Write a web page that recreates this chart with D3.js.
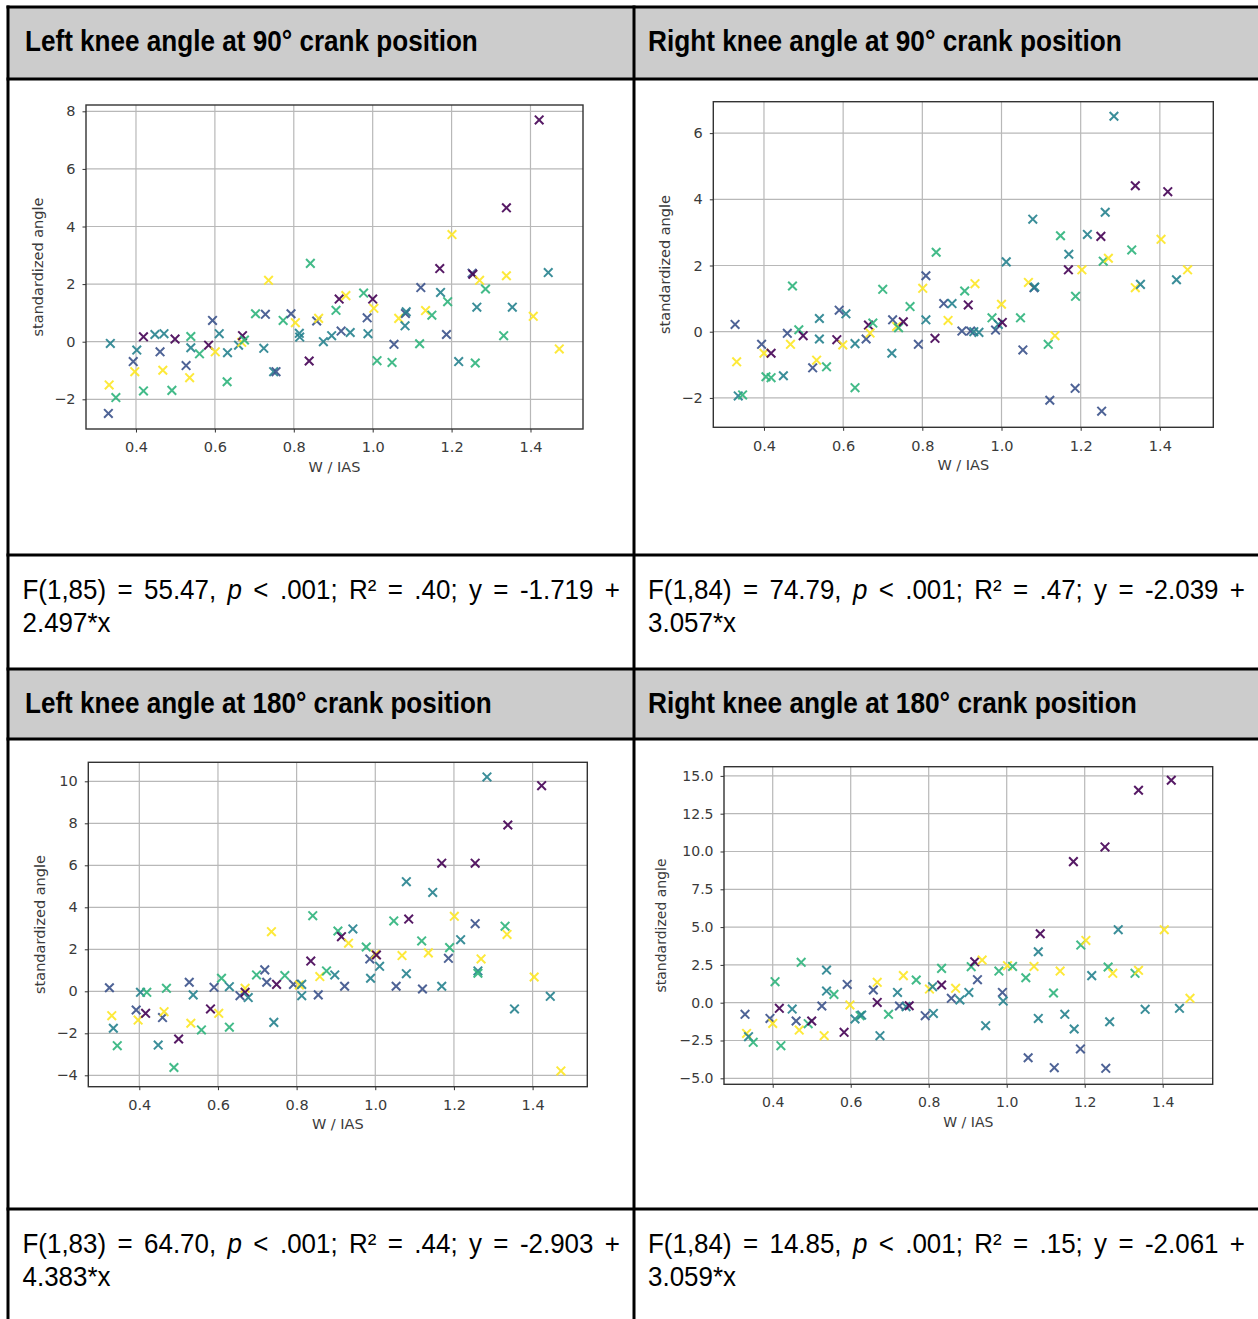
<!DOCTYPE html>
<html>
<head>
<meta charset="UTF-8">
<title>Knee angle vs W / IAS</title>
<script src="https://d3js.org/d3.v7.min.js"></script>
<style>
  body { margin: 0; background: #fff; }
  svg { display: block; }
</style>
</head>
<body>
<script>
// ---- data : [W/IAS, standardized angle, group] ----
var groupColors = ["#440154", "#3b528b", "#26828e", "#2fb47c", "#fde725"];

var leftKnee90 = [
  [0.330,-2.49,1],[0.332,-1.50,4],[0.335,-0.06,2],[0.349,-1.94,3],[0.393,-0.69,1],[0.397,-1.04,4],
  [0.402,-0.29,2],[0.419,0.17,0],[0.419,-1.71,3],[0.448,0.25,2],[0.471,0.28,2],[0.461,-0.35,1],
  [0.468,-0.99,4],[0.491,-1.69,3],[0.499,0.09,0],[0.527,-0.83,1],[0.536,-1.25,4],[0.539,0.18,3],
  [0.539,-0.21,2],[0.561,-0.42,3],[0.584,-0.12,0],[0.594,0.74,1],[0.601,-0.35,4],[0.611,0.28,2],
  [0.632,-0.38,2],[0.631,-1.39,3],[0.660,-0.12,2],[0.668,-0.02,4],[0.670,0.21,0],[0.675,0.06,3],
  [0.703,0.97,3],[0.728,0.95,1],[0.724,-0.23,2],[0.736,2.13,4],[0.749,-1.04,2],[0.755,-1.04,1],
  [0.773,0.74,3],[0.793,0.97,1],[0.804,0.66,4],[0.814,0.29,2],[0.815,0.16,2],[0.839,-0.67,0],
  [0.842,2.72,3],[0.858,0.72,1],[0.863,0.81,4],[0.875,0.00,2],[0.896,0.21,2],[0.907,1.09,3],
  [0.915,1.48,0],[0.920,0.37,1],[0.932,1.60,4],[0.943,0.32,2],[0.977,1.69,3],[0.986,0.83,1],
  [0.988,0.28,2],[1.000,1.48,0],[1.003,1.16,4],[1.011,-0.66,3],[1.049,-0.72,3],[1.054,-0.09,1],
  [1.066,0.81,4],[1.083,0.98,1],[1.082,0.55,2],[1.085,1.04,2],[1.119,-0.07,3],[1.122,1.88,1],
  [1.134,1.08,4],[1.150,0.92,3],[1.170,2.54,0],[1.172,1.71,2],[1.187,0.25,1],[1.190,1.39,3],
  [1.201,3.72,4],[1.218,-0.69,2],[1.252,2.38,1],[1.254,2.34,0],[1.260,-0.74,3],[1.264,1.20,2],
  [1.271,2.13,4],[1.286,1.83,3],[1.332,0.21,3],[1.339,2.29,4],[1.339,4.65,0],[1.354,1.20,2],
  [1.407,0.88,4],[1.422,7.70,0],[1.445,2.40,2],[1.473,-0.25,4]
];

var rightKnee90 = [
  [0.327,0.22,1],[0.331,-0.91,4],[0.335,-1.94,2],[0.346,-1.91,3],[0.394,-0.38,1],[0.400,-0.65,4],
  [0.418,-0.65,0],[0.405,-1.36,3],[0.418,-1.39,3],[0.449,-1.33,2],[0.459,-0.05,1],[0.467,-0.38,4],
  [0.472,1.38,3],[0.488,0.06,3],[0.499,-0.12,0],[0.523,-1.09,1],[0.533,-0.86,4],[0.540,0.40,2],
  [0.540,-0.22,2],[0.558,-1.06,3],[0.584,-0.24,0],[0.590,0.65,1],[0.599,-0.40,4],[0.607,0.54,2],
  [0.630,-0.36,2],[0.630,-1.69,3],[0.658,-0.22,1],[0.664,0.20,0],[0.668,-0.04,4],[0.675,0.26,3],
  [0.700,1.28,3],[0.723,-0.65,2],[0.725,0.36,1],[0.735,0.16,4],[0.740,0.12,3],[0.752,0.30,0],
  [0.769,0.76,3],[0.790,-0.38,1],[0.801,1.31,4],[0.809,1.69,1],[0.809,0.36,2],[0.832,-0.20,0],
  [0.835,2.40,3],[0.854,0.85,1],[0.875,0.85,2],[0.865,0.34,4],[0.900,0.02,1],[0.907,1.23,3],
  [0.916,0.81,0],[0.922,0.02,1],[0.933,1.45,4],[0.930,0.00,2],[0.943,-0.02,2],[0.976,0.42,3],
  [0.985,0.05,1],[0.992,0.22,2],[1.002,0.28,0],[1.000,0.83,4],[1.012,2.11,2],[1.048,0.42,3],
  [1.054,-0.55,1],[1.068,1.49,4],[1.079,3.40,2],[1.082,1.33,1],[1.084,1.35,2],[1.118,-0.38,3],
  [1.135,-0.12,4],[1.122,-2.07,1],[1.149,2.90,3],[1.170,2.34,2],[1.169,1.87,0],[1.186,-1.71,1],
  [1.187,1.07,3],[1.203,1.87,4],[1.217,2.94,2],[1.251,2.88,0],[1.253,-2.40,1],[1.257,2.13,3],
  [1.262,3.61,2],[1.270,2.22,4],[1.284,6.51,2],[1.329,2.47,3],[1.338,4.41,0],[1.338,1.33,4],
  [1.351,1.43,2],[1.403,2.79,4],[1.420,4.23,0],[1.442,1.57,2],[1.470,1.87,4]
];

var leftKnee180 = [
  [0.324,0.17,1],[0.330,-1.16,4],[0.334,-1.76,2],[0.344,-2.59,3],[0.392,-0.89,1],[0.397,-1.37,4],
  [0.403,-0.05,2],[0.419,-0.05,3],[0.416,-1.05,0],[0.448,-2.56,2],[0.459,-1.25,1],[0.463,-0.97,4],
  [0.469,0.14,3],[0.488,-3.63,3],[0.500,-2.27,0],[0.527,0.43,1],[0.531,-1.52,4],[0.537,-0.17,2],
  [0.558,-1.84,3],[0.581,-0.84,0],[0.590,0.19,1],[0.602,-1.05,4],[0.609,0.62,3],[0.629,0.22,2],
  [0.629,-1.71,3],[0.656,-0.21,1],[0.669,0.14,4],[0.669,-0.05,0],[0.677,-0.30,2],[0.698,0.78,3],
  [0.719,1.02,1],[0.724,0.43,1],[0.736,2.84,4],[0.742,-1.48,2],[0.749,0.33,0],[0.770,0.75,3],
  [0.792,0.33,1],[0.807,0.30,4],[0.813,0.33,2],[0.813,-0.21,2],[0.836,1.44,0],[0.841,3.60,3],
  [0.855,-0.17,1],[0.859,0.70,4],[0.876,0.97,3],[0.897,0.78,2],[0.905,2.87,3],[0.914,2.60,0],
  [0.922,0.24,1],[0.932,2.29,4],[0.943,2.97,2],[0.977,2.11,3],[0.986,1.54,1],[1.000,1.76,4],
  [1.003,1.73,0],[0.988,0.62,2],[1.011,1.19,2],[1.047,3.35,3],[1.053,0.24,1],[1.068,1.70,4],
  [1.079,5.22,2],[1.079,0.84,2],[1.085,3.44,0],[1.118,2.40,3],[1.120,0.11,1],[1.135,1.83,4],
  [1.146,4.71,2],[1.169,6.10,0],[1.169,0.24,2],[1.186,1.57,1],[1.189,2.08,3],[1.201,3.57,4],
  [1.217,2.46,2],[1.254,6.10,0],[1.254,3.22,1],[1.261,0.97,2],[1.261,0.86,3],[1.269,1.54,4],
  [1.284,10.21,2],[1.330,3.10,3],[1.335,2.71,4],[1.337,7.92,0],[1.354,-0.84,2],[1.404,0.68,4],
  [1.423,9.79,0],[1.445,-0.24,2],[1.472,-3.79,4]
];

var rightKnee180 = [
  [0.329,-0.77,1],[0.333,-2.03,4],[0.338,-2.25,2],[0.350,-2.62,3],[0.393,-1.04,1],[0.400,-1.37,4],
  [0.406,1.39,3],[0.417,-0.37,0],[0.421,-2.84,3],[0.450,-0.42,2],[0.460,-1.21,1],[0.468,-1.81,4],
  [0.473,2.67,3],[0.491,-1.39,3],[0.500,-1.21,0],[0.526,-0.22,1],[0.532,-2.18,4],[0.538,2.16,2],
  [0.538,0.77,2],[0.557,0.55,3],[0.583,-1.96,0],[0.591,1.21,1],[0.598,-0.15,4],[0.611,-1.08,2],
  [0.624,-0.86,3],[0.628,-0.82,2],[0.658,0.84,1],[0.668,1.35,4],[0.668,0.02,0],[0.675,-2.18,2],
  [0.697,-0.77,3],[0.720,0.68,2],[0.725,-0.22,1],[0.735,1.79,4],[0.742,-0.26,2],[0.750,-0.20,0],
  [0.768,1.50,3],[0.791,-0.86,1],[0.802,0.90,4],[0.810,1.06,2],[0.812,-0.71,2],[0.833,1.17,0],
  [0.833,2.27,3],[0.858,0.29,1],[0.869,0.95,4],[0.880,0.18,2],[0.903,0.68,2],[0.909,2.38,3],
  [0.918,2.71,0],[0.925,1.52,1],[0.937,2.82,4],[0.946,-1.52,2],[0.980,2.09,3],[0.989,0.68,1],
  [0.991,0.11,2],[1.002,2.45,4],[1.015,2.40,3],[1.049,1.65,3],[1.055,-3.64,1],[1.070,2.40,4],
  [1.081,3.37,2],[1.081,-1.04,2],[1.086,4.56,0],[1.120,0.64,3],[1.122,-4.30,1],[1.137,2.09,4],
  [1.149,-0.77,2],[1.171,9.33,0],[1.173,-1.74,2],[1.189,-3.06,1],[1.190,3.81,3],[1.203,4.12,4],
  [1.218,1.79,2],[1.252,10.30,0],[1.254,-4.34,1],[1.260,2.36,3],[1.264,-1.26,2],[1.272,1.94,4],
  [1.286,4.83,2],[1.329,1.94,3],[1.338,2.14,4],[1.338,14.05,0],[1.355,-0.44,2],[1.404,4.83,4],
  [1.422,14.71,0],[1.443,-0.37,2],[1.470,0.29,4]
];

var titles = [
  "Left knee angle at 90\u00b0 crank position",
  "Right knee angle at 90\u00b0 crank position",
  "Left knee angle at 180\u00b0 crank position",
  "Right knee angle at 180\u00b0 crank position"
];
var dfs = ["1,85", "1,84", "1,83", "1,84"];
var fValues = ["55.47", "74.79", "64.70", "14.85"];
var r2Values = [".40", ".47", ".44", ".15"];
var intercepts = ["-1.719", "-2.039", "-2.903", "-2.061"];
var slopes = ["2.497", "3.057", "4.383", "3.059"];

var xTicks = [0.4, 0.6, 0.8, 1.0, 1.2, 1.4];
var yTicks = [
  [-2, 0, 2, 4, 6, 8],
  [-2, 0, 2, 4, 6],
  [-4, -2, 0, 2, 4, 6, 8, 10],
  [-5, -2.5, 0, 2.5, 5, 7.5, 10, 12.5, 15]
];
var xLabel = "W / IAS";
var yLabel = "standardized angle";

// ---- layout ----
var width = 1258, height = 1319;
var colX = [8, 634];
var headerRows = [[7, 79], [669, 739]];
var statRows = [[555, 669], [1209, 1319]];
var hLines = [7, 79, 555, 669, 739, 1209];

var panels = [
  { data: leftKnee90, xDom: [0.2733, 1.5331], yDom: [-3.031, 8.219], box: [86, 583, 105, 429], fmt: "d", fs: 14.5, ylOff: 42.7 },
  { data: rightKnee90, xDom: [0.272, 1.535], yDom: [-2.888, 6.949], box: [713.3, 1213.3, 101.7, 427.3], fmt: "d", fs: 14.5, ylOff: 43.3 },
  { data: leftKnee180, xDom: [0.2703, 1.5391], yDom: [-4.543, 10.905], box: [88.3, 587.3, 762.3, 1086.7], fmt: "d", fs: 14.5, ylOff: 43.3 },
  { data: rightKnee180, xDom: [0.2751, 1.5282], yDom: [-5.397, 15.608], box: [724, 1212.7, 766.7, 1084.3], fmt: ".1f", fs: 14, ylOff: 58 }
];
var headerWidths = [453, 474, 467, 489];
var narrowFont = '"Liberation Sans Narrow", "Arial Narrow", "Liberation Sans", Arial, sans-serif';
var plotFont = '"DejaVu Sans", sans-serif';

var svg = d3.select("body").append("svg")
  .attr("width", width).attr("height", height);

svg.append("rect").attr("width", width).attr("height", height).attr("fill", "#fff");

// header backgrounds
headerRows.forEach(function (r) {
  svg.append("rect").attr("x", colX[0]).attr("y", r[0])
    .attr("width", width - colX[0]).attr("height", r[1] - r[0])
    .attr("fill", "#cccccc");
});

// ---- plots ----
panels.forEach(function (p, i) {
  var g = svg.append("g");
  var b = p.box;
  var x = d3.scaleLinear().domain(p.xDom).range([b[0], b[1]]);
  var y = d3.scaleLinear().domain(p.yDom).range([b[3], b[2]]);

  // grid
  g.append("g").selectAll("line").data(xTicks).join("line")
    .attr("x1", function (d) { return x(d); }).attr("x2", function (d) { return x(d); })
    .attr("y1", b[2]).attr("y2", b[3])
    .attr("stroke", "#b8b8b8").attr("stroke-width", 1.2);
  g.append("g").selectAll("line").data(yTicks[i]).join("line")
    .attr("x1", b[0]).attr("x2", b[1])
    .attr("y1", function (d) { return y(d); }).attr("y2", function (d) { return y(d); })
    .attr("stroke", "#b8b8b8").attr("stroke-width", 1.2);

  // axes
  var styleAxis = function (a) {
    a.select(".domain").remove();
    a.selectAll(".tick line").attr("stroke", "#333");
    a.selectAll(".tick text").attr("font-family", plotFont)
      .attr("font-size", p.fs).attr("fill", "#3a3a3a");
  };
  g.append("g").attr("transform", "translate(0," + b[3] + ")")
    .call(d3.axisBottom(x).tickValues(xTicks).tickSize(3.5).tickPadding(9.5)
      .tickFormat(d3.format(".1f")))
    .call(styleAxis);
  g.append("g").attr("transform", "translate(" + b[0] + ",0)")
    .call(d3.axisLeft(y).tickValues(yTicks[i]).tickSize(3.5).tickPadding(7)
      .tickFormat(d3.format(p.fmt)))
    .call(styleAxis);

  // axis labels
  g.append("text").attr("x", (b[0] + b[1]) / 2).attr("y", b[3] + 42.5)
    .attr("text-anchor", "middle").attr("font-family", plotFont)
    .attr("font-size", p.fs).attr("fill", "#3a3a3a").text(xLabel);
  g.append("text")
    .attr("transform", "translate(" + (b[0] - p.ylOff) + "," + ((b[2] + b[3]) / 2) + ") rotate(-90)")
    .attr("text-anchor", "middle").attr("font-family", plotFont)
    .attr("font-size", p.fs).attr("fill", "#3a3a3a").text(yLabel);

  // markers
  g.append("g").selectAll("path").data(p.data).join("path")
    .attr("transform", function (d) { return "translate(" + x(d[0]) + "," + y(d[1]) + ")"; })
    .attr("d", "M-4.3,-4.3L4.3,4.3M-4.3,4.3L4.3,-4.3")
    .attr("fill", "none")
    .attr("stroke", function (d) { return groupColors[d[2]]; })
    .attr("stroke-opacity", 0.9)
    .attr("stroke-width", 2);

  // spines
  g.append("rect").attr("x", b[0]).attr("y", b[2])
    .attr("width", b[1] - b[0]).attr("height", b[3] - b[2])
    .attr("fill", "none").attr("stroke", "#333").attr("stroke-width", 1.4);
});

// ---- headers ----
titles.forEach(function (t, i) {
  var col = i % 2, row = Math.floor(i / 2);
  var tx = col === 0 ? 25 : 648;
  var ty = headerRows[row][0] + 44;
  var node = svg.append("text")
    .attr("font-family", narrowFont).attr("font-weight", "bold")
    .attr("font-size", 29.5).attr("fill", "#000").text(t);
  var s = headerWidths[i] / node.node().getComputedTextLength();
  node.attr("transform", "translate(" + tx + "," + ty + ") scale(" + s + ",1)");
});

// ---- statistics lines (first line justified) ----
titles.forEach(function (t, i) {
  var col = i % 2, row = Math.floor(i / 2);
  var x0 = col === 0 ? 22.5 : 648;
  var x1 = col === 0 ? 620 : 1245;
  var y1 = statRows[row][0] + 44;
  var y2 = y1 + 33;
  var tokens = ["F(" + dfs[i] + ")", "=", fValues[i] + ",", "~p", "<", ".001;",
    "R\u00b2", "=", r2Values[i] + ";", "y", "=", intercepts[i], "+"];

  var g = svg.append("g").attr("font-family", narrowFont).attr("font-size", 28).attr("fill", "#000");
  var line2 = g.append("text").attr("y", y2).text(slopes[i] + "*x");
  var s = 88 / line2.node().getComputedTextLength();
  g.attr("transform", "translate(" + x0 + ",0) scale(" + s + ",1)");

  var nodes = tokens.map(function (tok) {
    return g.append("text").attr("y", y1)
      .attr("font-style", tok[0] === "~" ? "italic" : null)
      .text(tok.replace(/^~/, ""));
  });
  var widths = nodes.map(function (n) { return n.node().getComputedTextLength(); });
  var avail = (x1 - x0) / s;
  var gap = (avail - d3.sum(widths)) / (nodes.length - 1);
  var cx = 0;
  nodes.forEach(function (n, k) { n.attr("x", cx); cx += widths[k] + gap; });
});

// ---- table borders ----
hLines.forEach(function (yy) {
  svg.append("line").attr("x1", colX[0] - 1.5).attr("x2", width)
    .attr("y1", yy).attr("y2", yy).attr("stroke", "#000").attr("stroke-width", 3);
});
colX.forEach(function (xx) {
  svg.append("line").attr("x1", xx).attr("x2", xx)
    .attr("y1", hLines[0] - 1.5).attr("y2", height)
    .attr("stroke", "#000").attr("stroke-width", 3);
});
</script>
</body>
</html>
